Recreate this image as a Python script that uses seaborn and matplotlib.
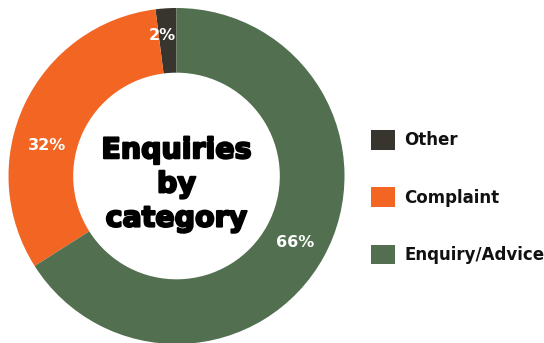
import numpy as np
import matplotlib
matplotlib.use("Agg")
import matplotlib.pyplot as plt
import matplotlib.patheffects as pe
import seaborn as sns

categories = ["Other", "Complaint", "Enquiry/Advice"]
values = [2, 32, 66]
pct_labels = ["2%", "32%", "66%"]
colors = ["#38352f", "#f26522", "#527050"]
title_text = "Enquiries\nby\ncategory"

sns.set_theme(style="white")
plt.rcParams["font.family"] = ["DejaVu Sans"]

W, H = 544, 343
fig = plt.figure(figsize=(W / 100, H / 100), dpi=100)
cx, cy, R = 176.5, 167.0, 168.0
ax = fig.add_axes([(cx - R) / W, (cy - R) / H, 2 * R / W, 2 * R / H])

wedges, _ = ax.pie(values, colors=colors, startangle=90, counterclock=True,
                   radius=1.0, wedgeprops=dict(width=0.385, linewidth=0))
ax.set_xlim(-1, 1)
ax.set_ylim(-1, 1)
ax.set_aspect("equal")
ax.axis("off")

# percentage labels placed along the ring
label_r = [0.84, 0.79, 0.81]
label_shift = [2.0, 12.0, -0.5]  # degrees
for w, lab, r, sh in zip(wedges, pct_labels, label_r, label_shift):
    ang = np.deg2rad((w.theta1 + w.theta2) / 2 + sh)
    ax.text(r * np.cos(ang), r * np.sin(ang), lab, color="white",
            fontsize=11.5, fontweight="bold", ha="center", va="center")

ax.text(0.0, -0.05, title_text, ha="center", va="center", fontsize=20.5,
        fontweight="bold", color="black", linespacing=1.28,
        path_effects=[pe.Stroke(linewidth=1.5, foreground="black"), pe.Normal()])

fig.legend(wedges, categories, loc="upper left",
           bbox_to_anchor=(371 / W, 1 - 130 / H), frameon=False,
           prop=dict(size=12, weight="bold"), labelcolor="#111111",
           handlelength=1.45, handleheight=1.45, handletextpad=0.55,
           labelspacing=2.25, borderpad=0, borderaxespad=0)

fig.savefig("out.png", dpi=100, facecolor="white")
